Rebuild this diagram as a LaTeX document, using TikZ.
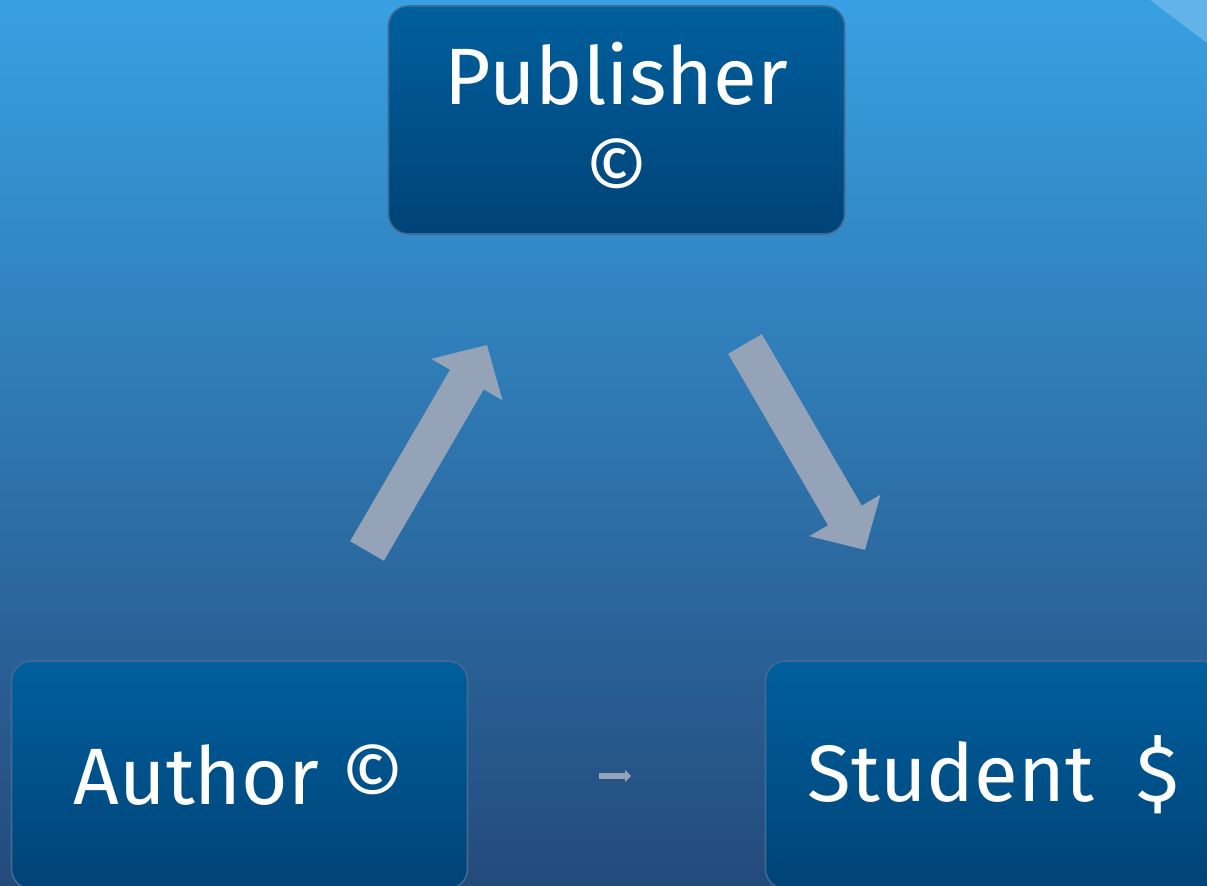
\documentclass[tikz,border=0pt]{standalone}
\usepackage{fontspec}
\setmainfont{Fira Sans}
\usetikzlibrary{arrows.meta,positioning}

\definecolor{bgtop}{HTML}{38A0E2}
\definecolor{bgmid}{HTML}{2D80BD}
\definecolor{bgbot}{HTML}{244A7B}
\definecolor{boxtop}{HTML}{005F9D}
\definecolor{boxbot}{HTML}{004377}
\definecolor{boxedge}{HTML}{3F6A92}
\definecolor{arrowtop}{HTML}{A0AFC6}
\definecolor{arrowgrey}{HTML}{95A3B8}
\definecolor{gloss}{HTML}{62B4E8}

\begin{document}
\begin{tikzpicture}
		[x=0.5pt,y=-0.5pt,
		box/.style= {rounded corners=10pt,top color=boxtop,bottom color=boxbot,draw=boxedge,line width=0.8pt,
			text=white,font=\fontsize{40}{47}\selectfont,align=center,inner sep=0pt,
			minimum width=228pt,minimum height=114pt},
		bigarrow/.style= {arrowgrey,line width=19.5pt,-{Triangle[length=20pt,width=40pt]}},
		smallarrow/.style= {arrowgrey,line width=3pt,-{Triangle[length=3pt,width=6pt]}}]

		\useasboundingbox (0,0) rectangle (1207,886);
		\clip (0,0) rectangle (1207,886);

		% background
		\shade[top color=bgtop,middle color=bgmid,bottom color=bgbot] (0,0) rectangle (1207,886);
		\fill[gloss] (1150,0) -- (1207,0) -- (1207,43) -- cycle;

		\node[box] (publisher) at (616.5,120) {Publisher\\©}
		;

		\node[box] (author) at (239.5,775) {Author ©}
		;

		\node[box] (student) at (993.5,775) {Student \ \$}
		;

		% arrows
		\coordinate (up0) at (367,551);
		\coordinate (up1) at (487,345);
		\coordinate (down0) at (745,344);
		\coordinate (down1) at (865,550);
		\coordinate (mid0) at (599,776);
		\coordinate (mid1) at (631,776);

		\draw[bigarrow] (up0) -- (up1);
		\draw[bigarrow] (down0) -- (down1);
		\draw[smallarrow] (mid0) -- (mid1);

	\end{tikzpicture}
\end{document}
